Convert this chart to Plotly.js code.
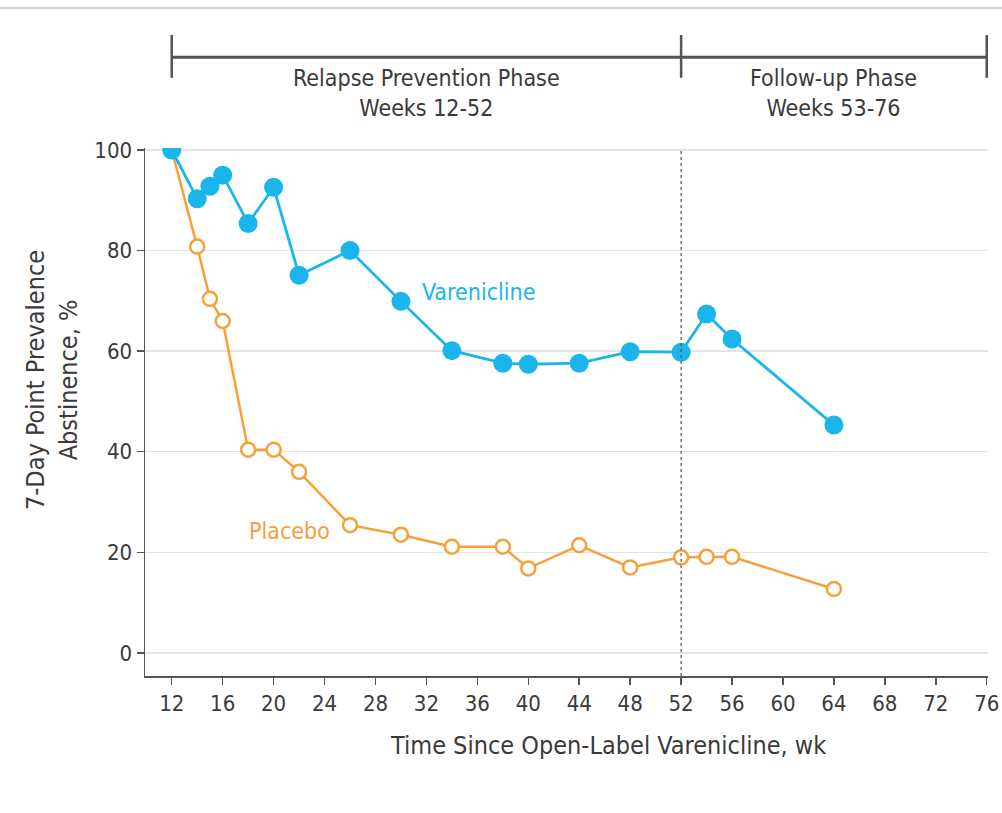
<!DOCTYPE html>
<html>
<head>
<meta charset="utf-8">
<script src="https://cdn.plot.ly/plotly-3.0.1.min.js"></script>
<style>html,body{margin:0;padding:0;background:#fff}#chart{width:1002px;height:813px}</style>
</head>
<body>
<div id="chart"></div>
<script>
const weeks = [12, 14, 15, 16, 18, 20, 22, 26, 30, 34, 38, 40, 44, 48, 52, 54, 56, 64];
const varenicline = [100, 90.3, 92.8, 95.0, 85.4, 92.6, 75.1, 80.0, 69.9, 60.1, 57.6, 57.4, 57.6, 59.9, 59.8, 67.4, 62.4, 45.3];
const placebo = [100, 80.8, 70.4, 66.0, 40.4, 40.4, 36.0, 25.4, 23.5, 21.1, 21.1, 16.8, 21.4, 17.0, 19.0, 19.1, 19.1, 12.7];
const xTicks = [12, 16, 20, 24, 28, 32, 36, 40, 44, 48, 52, 56, 60, 64, 68, 72, 76];
const yTicks = [0, 20, 40, 60, 80, 100];
const phases = [
  {start: 12, end: 52, label: "Relapse Prevention Phase<br>Weeks 12-52"},
  {start: 52, end: 76, label: "Follow-up Phase<br>Weeks 53-76"}
];
const xTitle = "Time Since Open-Label Varenicline, wk";
const yTitle = "7-Day Point Prevalence<br>Abstinence, %";

const FONT = "'DejaVu Sans Condensed', 'Liberation Sans Narrow', 'Arial Narrow', sans-serif";
const BLUE = "#1ab5ea";
const ORANGE = "#f6a03a";
const TXT = "#3a3a3a";

const traces = [
  {x: weeks, y: placebo, type: "scatter", mode: "lines+markers", name: "Placebo",
   line: {color: ORANGE, width: 2.5},
   marker: {symbol: "circle", size: 14, color: "#ffffff", line: {color: ORANGE, width: 2.5}}},
  {x: weeks, y: varenicline, type: "scatter", mode: "lines+markers", name: "Varenicline",
   line: {color: BLUE, width: 2.8},
   marker: {symbol: "circle", size: 19, color: BLUE}}
];

const shapes = [
  {type: "line", xref: "paper", yref: "paper", x0: -0.172, x1: 1.017, y0: 1.265, y1: 1.265,
   line: {color: "#c4c4c4", width: 1.5}},
  {type: "line", xref: "x", yref: "paper", x0: 52, x1: 52, y0: 0, y1: 1,
   line: {color: "#555555", width: 1.2, dash: "dot"}},
  {type: "line", xref: "x", yref: "paper", x0: phases[0].start, x1: phases[1].end, y0: 1.172, y1: 1.172,
   line: {color: "#555555", width: 3}}
];
const tickXs = [phases[0].start, phases[0].end, phases[1].end];
tickXs.forEach(v => shapes.push({type: "line", xref: "x", yref: "paper", x0: v, x1: v, y0: 1.133, y1: 1.214,
  line: {color: "#555555", width: 2.5}}));

const annotations = phases.map(p => ({
  x: (p.start + p.end) / 2, xref: "x", y: 1.104, yref: "paper", text: p.label, showarrow: false,
  font: {family: FONT, size: 23, color: TXT}, align: "center", xanchor: "center", yanchor: "middle"
}));
annotations.push({x: 31.5, y: 71.8, xref: "x", yref: "y", text: "Varenicline", showarrow: false,
  font: {family: FONT, size: 23, color: BLUE}, xanchor: "left", yanchor: "middle"});
annotations.push({x: 17.9, y: 24.3, xref: "x", yref: "y", text: "Placebo", showarrow: false,
  font: {family: FONT, size: 23, color: ORANGE}, xanchor: "left", yanchor: "middle"});
annotations.push({x: 0.549, y: -0.131, xref: "paper", yref: "paper", text: xTitle, showarrow: false,
  font: {family: FONT, size: 25, color: TXT}, xanchor: "center", yanchor: "middle"});
annotations.push({x: -0.110, y: 0.561, xref: "paper", yref: "paper", text: yTitle, showarrow: false,
  textangle: -90, align: "center",
  font: {family: FONT, size: 25, color: TXT}, xanchor: "center", yanchor: "middle"});

const layout = {
  width: 1002, height: 813,
  margin: {l: 145, r: 14, t: 148, b: 137},
  paper_bgcolor: "#ffffff", plot_bgcolor: "#ffffff",
  showlegend: false,
  font: {family: FONT, color: TXT, size: 22},
  xaxis: {
    range: [9.9, 76.1], tickvals: xTicks, ticktext: xTicks.map(String),
    showgrid: false, zeroline: false, showline: true, linecolor: "#555555", linewidth: 1.5,
    ticks: "outside", ticklen: 7, tickwidth: 1.5, tickcolor: "#555555",
    tickfont: {family: FONT, size: 22, color: TXT}
  },
  yaxis: {
    range: [-4.6, 100.4], tickvals: yTicks, ticktext: yTicks.map(String),
    showgrid: true, gridcolor: "#e3e3e3", gridwidth: 1.5, zeroline: false,
    showline: true, linecolor: "#555555", linewidth: 1.5,
    ticks: "outside", ticklen: 7, tickwidth: 1.5, tickcolor: "#555555",
    tickfont: {family: FONT, size: 22, color: TXT}
  },
  shapes: shapes,
  annotations: annotations
};

Plotly.newPlot("chart", traces, layout, {displayModeBar: false, staticPlot: true});
</script>
</body>
</html>
